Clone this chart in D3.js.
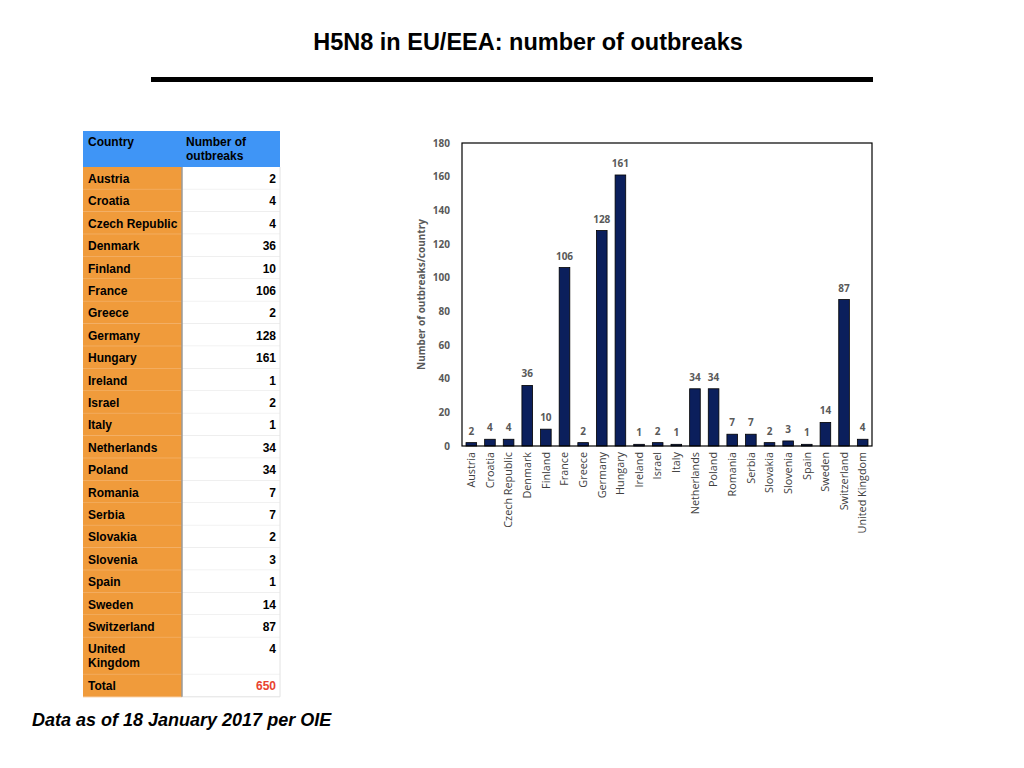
<!DOCTYPE html>
<html><head><meta charset="utf-8">
<script src="https://cdn.jsdelivr.net/npm/d3@7/dist/d3.min.js"></script>
<style>body{margin:0;background:#fff;} svg{display:block;}</style>
</head><body>
<script>
const countries = ["Austria","Croatia","Czech Republic","Denmark","Finland","France","Greece","Germany","Hungary","Ireland","Israel","Italy","Netherlands","Poland","Romania","Serbia","Slovakia","Slovenia","Spain","Sweden","Switzerland","United Kingdom"];
const outbreaks = [2,4,4,36,10,106,2,128,161,1,2,1,34,34,7,7,2,3,1,14,87,4];
const yTicks = [0,20,40,60,80,100,120,140,160,180];
const totalLabel = "Total";
const totalValue = 650;

const svg = d3.select("body").append("svg").attr("width",1024).attr("height",768);

// Title
svg.append("text").attr("x",528).attr("y",50).attr("text-anchor","middle")
  .style("font-family","Liberation Sans, Arial, sans-serif").style("font-weight","bold").style("font-size","23.5px")
  .text("H5N8 in EU/EEA: number of outbreaks");
svg.append("rect").attr("x",151).attr("y",77).attr("width",722).attr("height",5).attr("fill","#000");

// Table
const tX = 83, tDiv = 182, tR = 280, hTop = 131, hBot = 167, rowH = 22.4;
const tg = svg.append("g").style("font-family","Liberation Sans, Arial, sans-serif").style("font-weight","bold").style("font-size","12px");
tg.append("rect").attr("x",tX).attr("y",hTop).attr("width",tR-tX).attr("height",hBot-hTop).attr("fill","#3f95f6");
tg.append("text").attr("x",88).attr("y",146).text("Country");
tg.append("text").attr("x",186).attr("y",146).text("Number of");
tg.append("text").attr("x",186).attr("y",160).text("outbreaks");
let y = hBot;
const rows = countries.map((c,i)=>({c, v:outbreaks[i], h: c==="United Kingdom"? 37 : rowH}));
rows.push({c:totalLabel, v:totalValue, h:rowH, total:true});
rows.forEach(r=>{
  tg.append("rect").attr("x",tX).attr("y",y).attr("width",tDiv-tX).attr("height",r.h).attr("fill","#f09b3b");
  tg.append("rect").attr("x",tDiv).attr("y",y).attr("width",tR-tDiv).attr("height",r.h).attr("fill","#fff");
  tg.append("line").attr("x1",tX).attr("x2",tDiv).attr("y1",y+r.h).attr("y2",y+r.h).attr("stroke","#f4b878").attr("stroke-width",1);
  tg.append("line").attr("x1",tDiv).attr("x2",tR).attr("y1",y+r.h).attr("y2",y+r.h).attr("stroke","#e2e2e2").attr("stroke-width",1);
  if (r.c==="United Kingdom") {
    tg.append("text").attr("x",88).attr("y",y+15.5).text("United");
    tg.append("text").attr("x",88).attr("y",y+29.5).text("Kingdom");
    tg.append("text").attr("x",276).attr("y",y+15.5).attr("text-anchor","end").text(r.v);
  } else {
    tg.append("text").attr("x",88).attr("y",y+16).text(r.c);
    tg.append("text").attr("x",276).attr("y",y+16).attr("text-anchor","end").attr("fill", r.total?"#e8432f":"#000").text(r.v);
  }
  y += r.h;
});
tg.append("line").attr("x1",tDiv).attr("x2",tDiv).attr("y1",hBot).attr("y2",y).attr("stroke","#9a9a9a").attr("stroke-width",1.5);
tg.append("line").attr("x1",tR).attr("x2",tR).attr("y1",hBot).attr("y2",y).attr("stroke","#e2e2e2").attr("stroke-width",1);

// Footer
svg.append("text").attr("x",32).attr("y",726)
  .style("font-family","Liberation Sans, Arial, sans-serif").style("font-weight","bold").style("font-style","italic").style("font-size","18px")
  .text("Data as of 18 January 2017 per OIE");

// Chart
const data = countries.map((c,i)=>({c, v:outbreaks[i]}));
const L = 462, R = 872, T = 143, B = 446;
const x = d3.scaleBand().domain(data.map(d=>d.c)).range([L,R]).paddingInner(0.43).paddingOuter(0.215);
const yS = d3.scaleLinear().domain([0,180]).range([B,T]);
const cg = svg.append("g").style("font-family","'Open Sans', 'Noto Sans', sans-serif");

cg.selectAll("rect.bar").data(data).enter().append("rect").attr("class","bar")
  .attr("x",d=>x(d.c)).attr("width",x.bandwidth())
  .attr("y",d=>yS(d.v)).attr("height",d=>B-yS(d.v))
  .attr("fill","#0b1f5c").attr("stroke","#000").attr("stroke-width",0.8);
cg.selectAll("text.val").data(data).enter().append("text").attr("class","val")
  .attr("x",d=>x(d.c)+x.bandwidth()/2).attr("y",d=>yS(d.v)-8)
  .attr("text-anchor","middle").attr("fill","#595959").style("font-size","10px").style("font-weight","bold")
  .text(d=>d.v);

const yAxis = d3.axisLeft(yS).tickValues(yTicks).tickSize(0).tickPadding(12);
const ya = cg.append("g").attr("transform",`translate(${L},0)`).call(yAxis);
ya.select(".domain").remove();
ya.selectAll("text").attr("fill","#595959").style("font-size","10px").style("font-weight","bold").style("font-family","'Open Sans', sans-serif");

const xAxis = d3.axisBottom(x).tickSize(0).tickPadding(0);
const xa = cg.append("g").attr("transform",`translate(0,${B})`).call(xAxis);
xa.select(".domain").remove();
xa.selectAll("text").attr("transform","rotate(-90)").attr("text-anchor","end")
  .attr("x",-6).attr("y",0).attr("dy","0.35em").attr("fill","#404040")
  .style("font-size","10.8px").style("font-family","'Open Sans', sans-serif");

// Plot box
cg.append("rect").attr("x",L).attr("y",T).attr("width",R-L).attr("height",B-T).attr("fill","none").attr("stroke","#000").attr("stroke-width",1.2);

cg.append("text").attr("transform",`translate(425,${(T+B)/2}) rotate(-90)`).attr("text-anchor","middle")
  .attr("fill","#595959").style("font-size","10px").style("font-weight","bold")
  .text("Number of outbreaks/country");
</script>
</body></html>
